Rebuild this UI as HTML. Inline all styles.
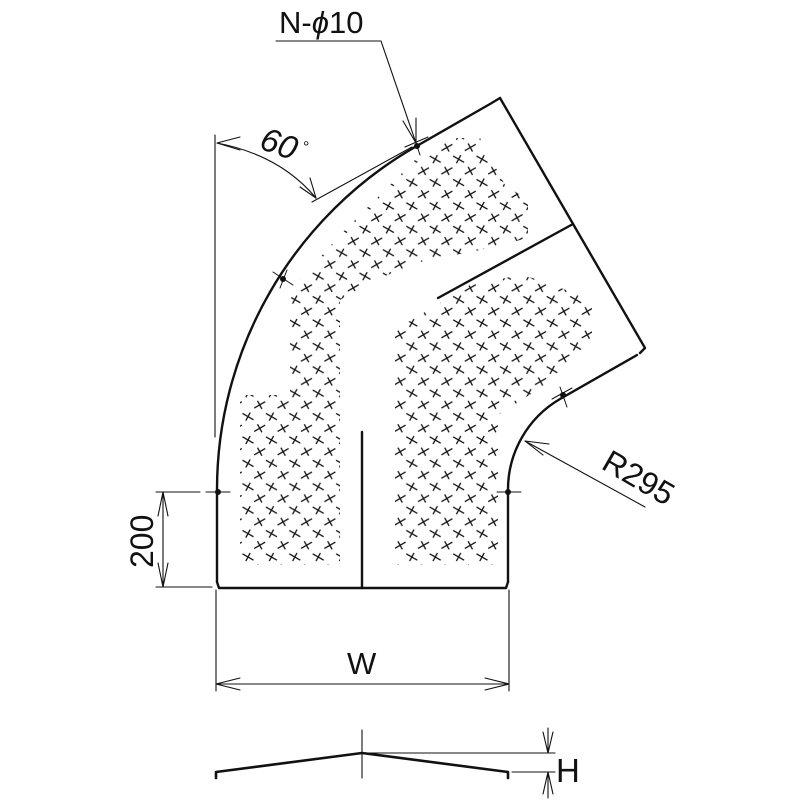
<!DOCTYPE html>
<html><head><meta charset="utf-8"><style>
html,body{margin:0;padding:0;background:#fff;}
svg{display:block;}
text{font-family:"Liberation Sans",sans-serif;fill:#111;}
</style></head><body>
<svg width="800" height="800" viewBox="0 0 800 800" xmlns="http://www.w3.org/2000/svg">
<defs>
<g id="x"><path d="M-5.5,-3.2 L5.5,3.2 M2.2,-4 L-2.2,4" stroke="#111" stroke-width="1.3" fill="none"/></g>
<g id="y"><path d="M-5.5,3.2 L5.5,-3.2 M-2.2,-4 L2.2,4" stroke="#111" stroke-width="1.3" fill="none"/></g>
<pattern id="cr" patternUnits="userSpaceOnUse" x="248" y="557" width="23.4" height="23.4">
  <use href="#x" x="0" y="0"/><use href="#x" x="23.4" y="0"/>
  <use href="#x" x="0" y="23.4"/><use href="#x" x="23.4" y="23.4"/>
  <use href="#y" x="11.7" y="11.7"/>
</pattern>
</defs>

<polygon fill="url(#cr)" points="240,565 340,565 340,300 370,282 420,262 480,250 528,238 528,200 505,185 480,138 455,138 415,160 375,200 340,235 300,280 290,300 290,395 240,395"/>
<polygon fill="url(#cr)" points="395,565 498,565 498,415 545,385 575,355 592,340 592,300 540,280 520,275 470,285 395,330"/>

<g fill="none" stroke="#111" stroke-linecap="round" stroke-linejoin="round">
  <path d="M217,582 L217,490 A396,396 0 0 1 415,147 L490,104 L500,98" stroke-width="2.4"/>
  <path d="M500,98 L645,348 L640,353" stroke-width="2.4"/>
  <path d="M508,582 L508,490 A105,105 0 0 1 560,399 L637,355" stroke-width="2.4"/>
  <path d="M217,582 L219,588 L506,588 L508,582" stroke-width="2.4"/>
  <path d="M362,432 L362,588" stroke-width="2.4"/>
  <path d="M438,298 L573,224" stroke-width="2.4"/>

  <g stroke-width="1">
    <path d="M206,492 L230,492 M217,482 L217,502"/>
    <path d="M497,492 L521,492 M508,482 L508,502"/>
    <path d="M273,272 L293,285 M287,270 L280,288"/>
    <path d="M405,147 L428,137 M415,140 L420,155"/>
    <path d="M552,399 L572,388 M560,387 L567,407"/>
  </g>
  <g fill="#111" stroke="none">
    <circle cx="218" cy="492" r="3"/><circle cx="508" cy="492" r="3"/>
    <circle cx="283" cy="279" r="3"/><circle cx="417" cy="146" r="3"/><circle cx="563" cy="395" r="3"/>
  </g>

  <g stroke-width="1.1">
    <path d="M215,135 L215,437"/>
    <path d="M312,202 L412,147"/>
    <path d="M217,143 Q280,155 316,198"/>
    <path d="M240,137 L217,143 L240,150"/>
    <path d="M300,187 L316,198 L310,178"/>
  </g>

  <g stroke-width="1.1">
    <path d="M276,41 L381,41 L416,143"/>
    <path d="M403,121 L416,143 L416,118"/>
  </g>

  <g stroke-width="1.1">
    <path d="M525,441 L645,507"/>
    <path d="M549,444 L525,441 L543,455"/>
  </g>

  <g stroke-width="1.1">
    <path d="M156,492 L200,492 M156,587 L212,587"/>
    <path d="M163,492 L163,587"/>
    <path d="M158,516 L163,492 L168,516"/>
    <path d="M158,563 L163,587 L168,563"/>
  </g>

  <g stroke-width="1.1">
    <path d="M216,590 L216,691 M509,590 L509,691"/>
    <path d="M216,684 L509,684"/>
    <path d="M240,678 L216,684 L240,690"/>
    <path d="M485,678 L509,684 L485,690"/>
  </g>

  <path d="M216,778 L216,772 L362,753 L508,772 L508,778" stroke-width="2.6"/>
  <g stroke-width="1.1">
    <path d="M362,730 L362,778"/>
    <path d="M362,753 L555,753 M512,772 L555,772"/>
    <path d="M548,728 L548,753 M543,732 L548,753 L553,732"/>
    <path d="M548,798 L548,772 M543,794 L548,772 L553,794"/>
  </g>
</g>

<text x="279" y="33" font-size="31">N-<tspan font-style="italic">ϕ</tspan>10</text>
<text x="0" y="0" font-size="33" font-style="italic" transform="translate(258,148) rotate(20)">60</text>
<text x="303" y="152" font-size="16">°</text>
<text x="0" y="0" font-size="32" transform="translate(600,468) rotate(30)">R295</text>
<text x="0" y="0" font-size="32" transform="translate(153,568) rotate(-90)">200</text>
<text x="347" y="674" font-size="31">W</text>
<text x="556" y="782" font-size="33">H</text>
</svg>
</body></html>
